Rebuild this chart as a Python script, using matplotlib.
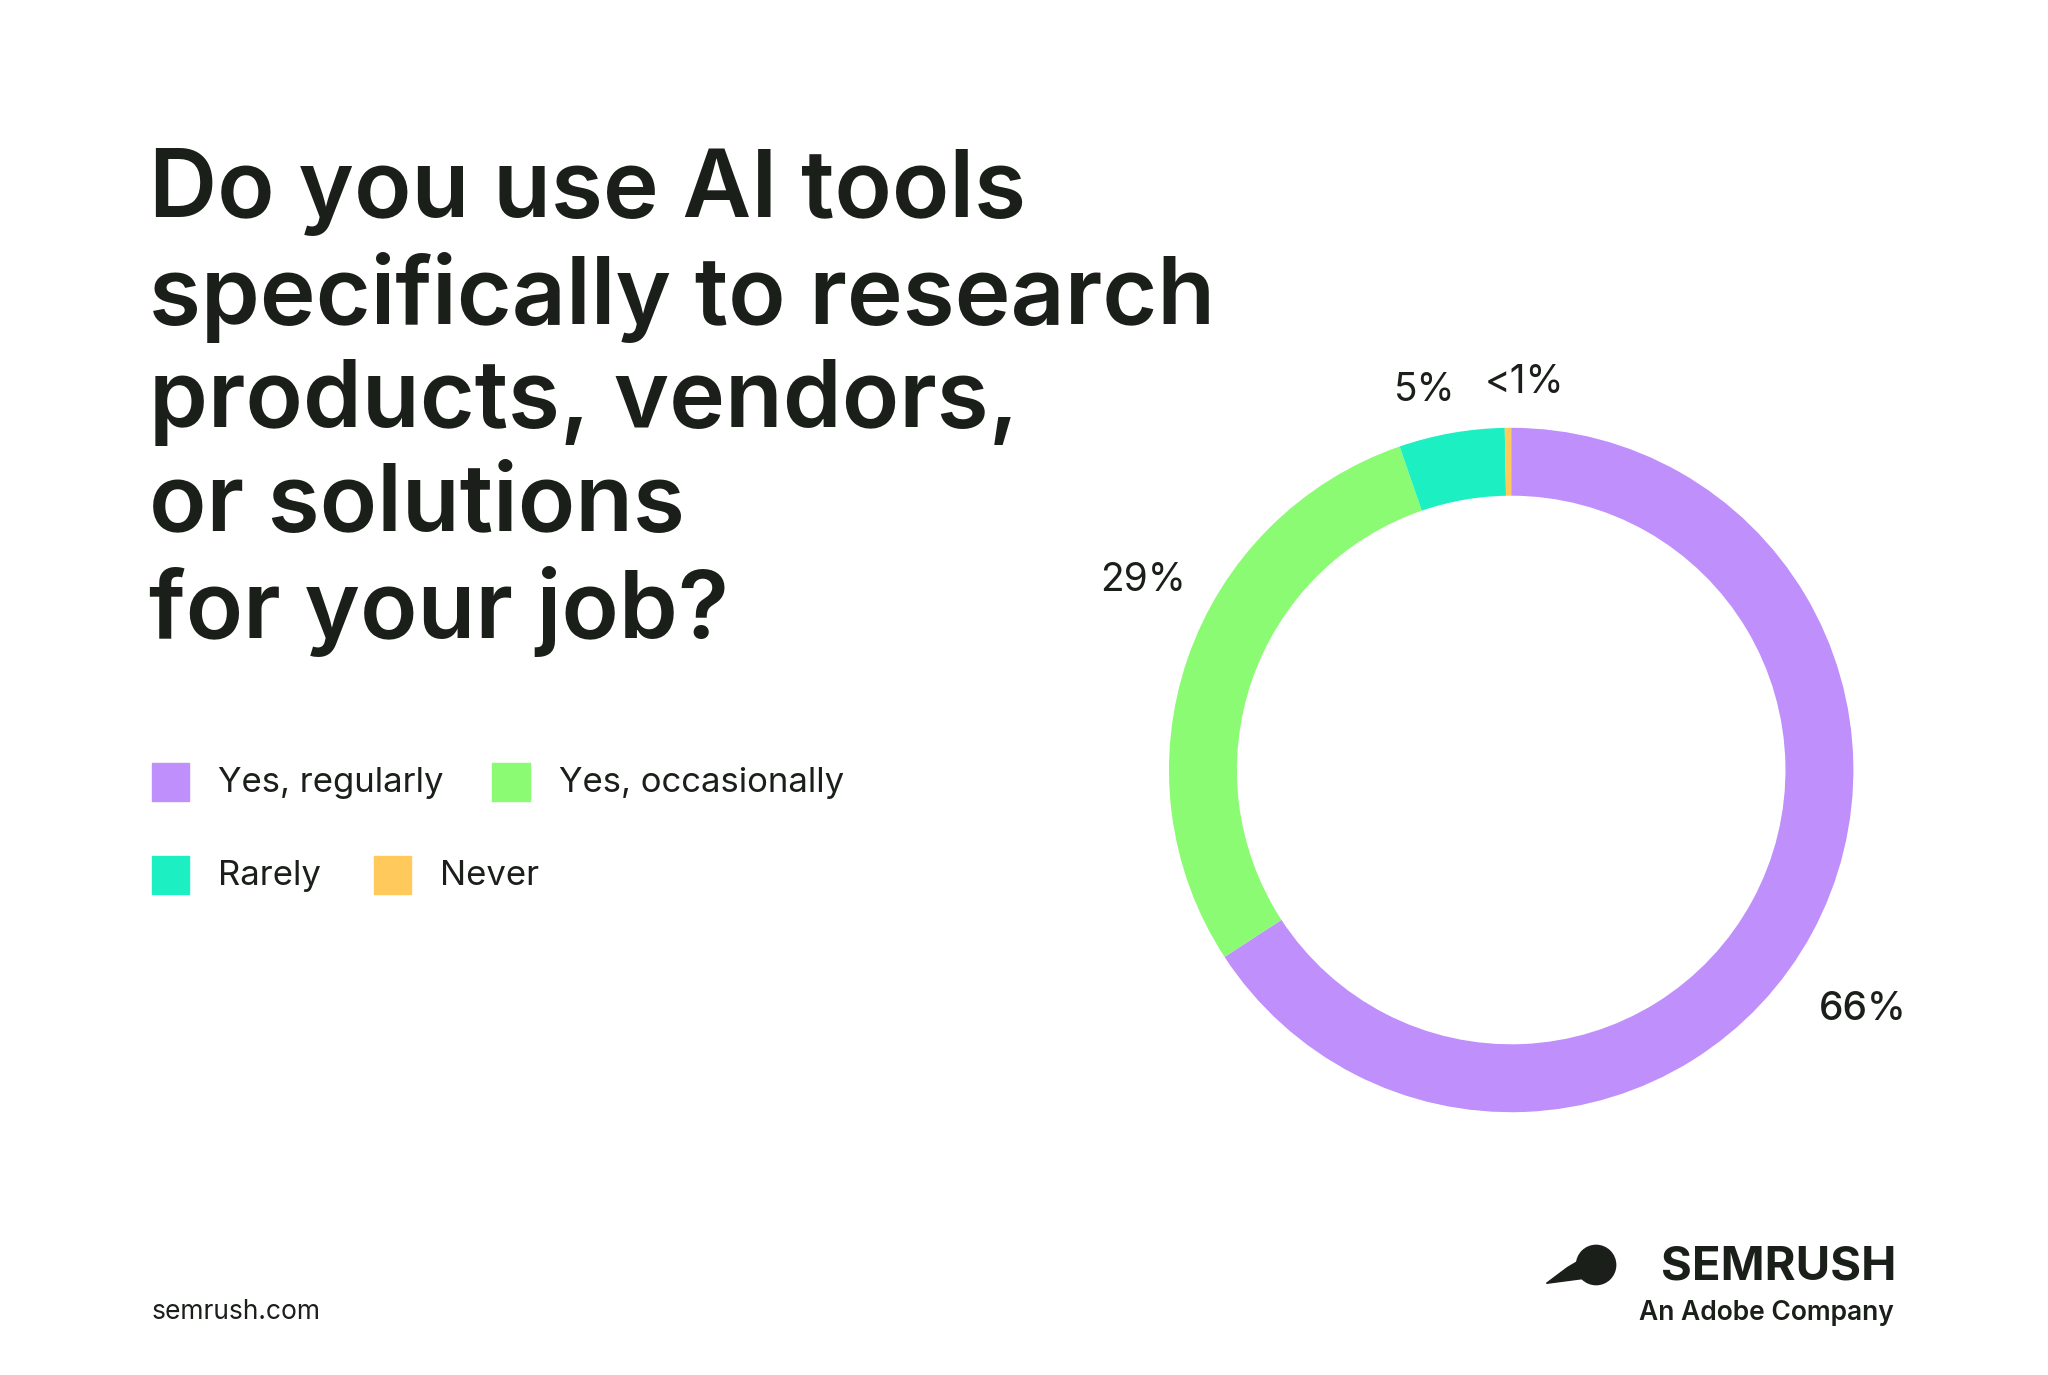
import matplotlib
matplotlib.use("Agg")
import matplotlib.pyplot as plt

labels = ["Yes, regularly", "Yes, occasionally", "Rarely", "Never"]
values = [66, 29, 5, 0.3]
pct_text = ["66%", "29%", "5%", "<1%"]
colors = ["#bf8ffb", "#8bfb73", "#1cf0c2", "#ffc95c"]

W, H = 1568, 1050  # layout grid (reference px)
fig = plt.figure(figsize=(20.48, 13.75), dpi=100)
fig.patch.set_facecolor("white")
ink = "#1b1f1a"
FONT = "Inter"

def fx(x): return x / W
def fy(y): return 1 - y / H

title = ["Do you use AI tools", "specifically to research", "products, vendors,",
         "or solutions", "for your job?"]
for i, line in enumerate(title):
    fig.text(fx(114), fy(147 + i * 80), line, fontsize=68, fontweight="semibold",
             family=FONT, color=ink, va="center", ha="left")

# legend
leg_pos = [(116, 598), (377, 598), (116, 669), (286, 669)]
for (x, y), lab, c in zip(leg_pos, labels, colors):
    fig.patches.append(plt.Rectangle((fx(x), fy(y + 14)), fx(29), 29 / H,
                                     transform=fig.transFigure, color=c))
    fig.text(fx(x + 51), fy(y), lab, fontsize=25, family=FONT, color=ink, va="center")

# donut
cx, cy, r = 1157, 588, 262
ax = fig.add_axes([fx(cx - r), fy(cy + r), 2 * r / W, 2 * r / H])
ax.pie(values, colors=colors, startangle=90, counterclock=False,
       wedgeprops=dict(width=52 / 262, linewidth=0))
ax.set_xlim(-1, 1)
ax.set_ylim(-1, 1)
ax.set_aspect("equal")
ax.axis("off")

lab_pos = [(1426, 771), (875, 443), (1091, 298), (1167, 292)]
for (x, y), t, lab in zip(lab_pos, pct_text, labels):
    fig.text(fx(x), fy(y), t, fontsize=28, family=FONT, color=ink, ha="center", va="center",
             fontweight="medium" if lab == "Yes, regularly" else "normal")

fig.text(fx(116), fy(1002), "semrush.com", fontsize=19, family=FONT, color=ink, va="center")
fig.text(fx(1452), fy(968), "SEMRUSH", fontsize=34, family=FONT, fontweight="bold",
         color=ink, ha="right", va="center")
fig.text(fx(1450), fy(1003), "An Adobe Company", fontsize=19, family=FONT, fontweight="semibold",
         color=ink, ha="right", va="center")
# logo mark
fig.patches.append(matplotlib.patches.Ellipse((fx(1222), fy(966)), fx(30), 30 / H,
                                              transform=fig.transFigure, color=ink))
fig.patches.append(matplotlib.patches.Polygon([(fx(1184), fy(980)), (fx(1222), fy(975)),
                                               (fx(1222), fy(955)), (fx(1200), fy(968))],
                                              transform=fig.transFigure, color=ink))

fig.savefig("out.png", dpi=100, facecolor="white")
